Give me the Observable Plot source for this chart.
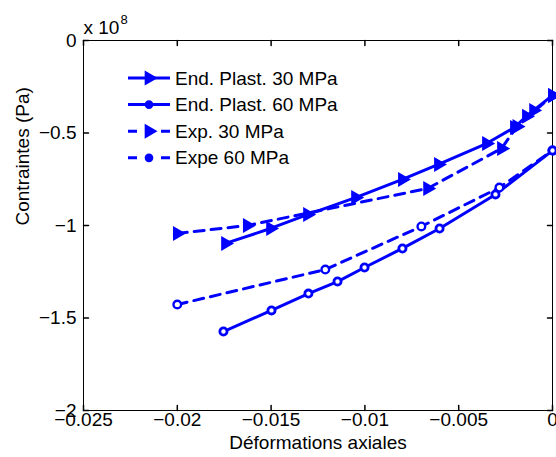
<!DOCTYPE html>
<html><head><meta charset="utf-8">
<script src="https://cdn.jsdelivr.net/npm/d3@7"></script>
<script src="https://cdn.jsdelivr.net/npm/@observablehq/plot@0.6"></script>
<style>
body{margin:0;background:#fff;}
#chart svg{display:block;}
</style>
</head><body><div id="chart"></div>
<script>
// ---- data (stress in units of 1e8 Pa) ----
const seriesNames = ["End. Plast. 30 MPa", "End. Plast. 60 MPa", "Exp. 30 MPa", "Expe 60 MPa"];
const ep30x = [-0.01743, -0.01503, -0.01306, -0.01050, -0.00800, -0.00608, -0.00352, -0.00203, -0.00139, -0.00101, 0];
const ep30y = [-1.097, -1.016, -0.941, -0.849, -0.751, -0.670, -0.557, -0.470, -0.410, -0.378, -0.297];
const ep60x = [-0.01754, -0.01498, -0.01301, -0.01146, -0.01002, -0.00800, -0.00602, -0.00304, 0];
const ep60y = [-1.573, -1.459, -1.368, -1.303, -1.227, -1.124, -1.016, -0.832, -0.595];
const ex30x = [-0.0200, -0.01627, -0.00666, -0.00272, -0.00190, 0];
const ex30y = [-1.043, -1.000, -0.800, -0.584, -0.465, -0.297];
const ex60x = [-0.0200, -0.01211, -0.00699, -0.00283, 0];
const ex60y = [-1.427, -1.238, -1.005, -0.795, -0.595];
const xTicks = [-0.025, -0.02, -0.015, -0.01, -0.005, 0];
const yTicks = [0, -0.5, -1, -1.5, -2];
const xLabel = "Déformations axiales";
const yLabel = "Contraintes (Pa)";
const exponentBase = "x 10";
const exponent = "8";

const blue = "#0000ff";
const font = "'Liberation Sans', Arial, Helvetica, sans-serif";
const fmt = d => (d < 0 ? "\u2212" : "") + String(Math.abs(d));

const toRows = (xs, ys, s) => xs.map((x, i) => ({series: s, x, y: ys[i]}));
const rowsEP30 = toRows(ep30x, ep30y, seriesNames[0]);
const rowsEP60 = toRows(ep60x, ep60y, seriesNames[1]);
const rowsEX30 = toRows(ex30x, ex30y, seriesNames[2]);
const rowsEX60 = toRows(ex60x, ex60y, seriesNames[3]);

// right-pointing triangle symbol
const triRight = {
  draw(context, size) {
    const s = Math.sqrt(size / (Math.sqrt(3) / 4));
    const h = s * Math.sqrt(3) / 2;
    context.moveTo(2 * h / 3, 0);
    context.lineTo(-h / 3, s / 2);
    context.lineTo(-h / 3, -s / 2);
    context.closePath();
  }
};
const tickShape = {draw(context, l) { context.moveTo(0, 0); context.lineTo(0, -l); }};

const dash = "10,7";

const chart = Plot.plot({
  width: 556, height: 457,
  marginLeft: 83, marginRight: 4, marginTop: 40, marginBottom: 47,
  style: {fontFamily: font, fontSize: "19px", color: "black", background: "white"},
  x: {domain: [-0.025, 0]},
  y: {domain: [-2, 0]},
  marks: [
    Plot.frame({stroke: "black", strokeWidth: 1}),
    // inward ticks on all four sides
    Plot.vector(xTicks, {x: d => d, frameAnchor: "bottom", length: 5, rotate: 0, anchor: "start", shape: tickShape, stroke: "black"}),
    Plot.vector(xTicks, {x: d => d, frameAnchor: "top", length: 5, rotate: 180, anchor: "start", shape: tickShape, stroke: "black"}),
    Plot.vector(yTicks, {y: d => d, frameAnchor: "left", length: 5, rotate: 90, anchor: "start", shape: tickShape, stroke: "black"}),
    Plot.vector(yTicks, {y: d => d, frameAnchor: "right", length: 5, rotate: -90, anchor: "start", shape: tickShape, stroke: "black"}),
    Plot.axisX(xTicks, {tickSize: 0, tickPadding: 2, label: null, fontSize: 19, tickFormat: fmt}),
    Plot.axisY(yTicks, {tickSize: 0, tickPadding: 7, label: null, fontSize: 19, tickFormat: fmt}),
    Plot.text([xLabel], {text: d => d, frameAnchor: "bottom", dy: 25, lineAnchor: "top", fontSize: 19}),
    Plot.text([yLabel], {text: d => d, frameAnchor: "left", dx: -61, rotate: -90, fontSize: 19}),
    Plot.text([exponentBase], {text: d => d, frameAnchor: "top-left", dx: 0, dy: -7, lineAnchor: "bottom", textAnchor: "start", fontSize: 19}),
    Plot.text([exponent], {text: d => d, frameAnchor: "top-left", dx: 37, dy: -17, lineAnchor: "bottom", textAnchor: "start", fontSize: 13}),
    // series lines
    Plot.line(rowsEX30, {x: "x", y: "y", stroke: blue, strokeWidth: 3, strokeDasharray: dash}),
    Plot.line(rowsEX60, {x: "x", y: "y", stroke: blue, strokeWidth: 3, strokeDasharray: dash}),
    Plot.line(rowsEP30, {x: "x", y: "y", stroke: blue, strokeWidth: 3}),
    Plot.line(rowsEP60, {x: "x", y: "y", stroke: blue, strokeWidth: 3}),
    // markers
    Plot.dot(rowsEX30, {x: "x", y: "y", symbol: triRight, r: 4.6, fill: blue, stroke: blue, strokeWidth: 1.5}),
    Plot.dot(rowsEX60, {x: "x", y: "y", r: 3.8, fill: "white", stroke: blue, strokeWidth: 2.4}),
    Plot.dot(rowsEP30, {x: "x", y: "y", symbol: triRight, r: 4.6, fill: blue, stroke: blue, strokeWidth: 1.5}),
    Plot.dot(rowsEP60, {x: "x", y: "y", r: 3.6, fill: "white", stroke: blue, strokeWidth: 2.8})
  ]
});
document.getElementById("chart").append(chart);

// legend (inside the axes, no box)
const svg = d3.select(chart);
const lg = svg.append("g").attr("font-family", font).attr("font-size", 19).attr("text-anchor", "start");
const legendRows = [
  {name: seriesNames[0], dashed: false, sym: "tri"},
  {name: seriesNames[1], dashed: false, sym: "circ"},
  {name: seriesNames[2], dashed: true, sym: "tri"},
  {name: seriesNames[3], dashed: true, sym: "circ"}
];
legendRows.forEach((r, i) => {
  const y = 78 + i * 26.6;
  lg.append("line").attr("x1", 128).attr("x2", 170).attr("y1", y).attr("y2", y)
    .attr("stroke", blue).attr("stroke-width", 3)
    .attr("stroke-dasharray", r.dashed ? "9,24" : null);
  if (r.sym === "tri") {
    lg.append("path").attr("d", d3.symbol(triRight, Math.PI * 4.6 * 4.6)())
      .attr("transform", `translate(149,${y})`).attr("fill", blue).attr("stroke", blue).attr("stroke-width", 1.5);
  } else {
    lg.append("circle").attr("cx", 149).attr("cy", y).attr("r", 3.6).attr("fill", blue).attr("stroke", blue).attr("stroke-width", 1.5);
  }
  lg.append("text").attr("x", 175).attr("y", y).attr("dy", "0.35em").attr("fill", "black").attr("text-anchor", "start").text(r.name);
});
</script>
</body></html>
